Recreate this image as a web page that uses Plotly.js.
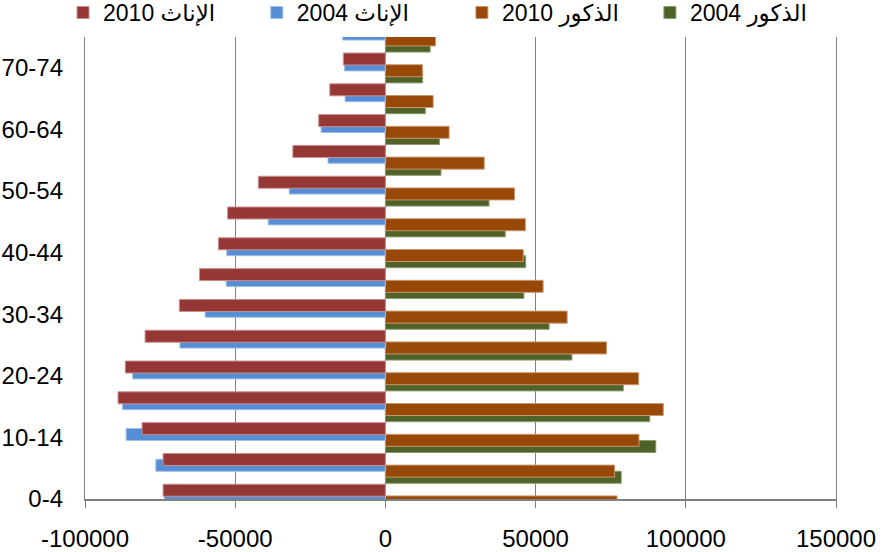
<!DOCTYPE html>
<html>
<head>
<meta charset="utf-8">
<script src="https://cdn.plot.ly/plotly-3.0.1.min.js"></script>
<style>
html,body{margin:0;padding:0;background:#fff;}
#chart{width:884px;height:552px;}
</style>
</head>
<body>
<div id="chart"></div>
<script>
// Age groups, bottom to top
const ageGroups = ['0-4','5-9','10-14','15-19','20-24','25-29','30-34','35-39',
                   '40-44','45-49','50-54','55-59','60-64','65-69','70-74','75-79'];
const ageTickLabels = ['0-4','10-14','20-24','30-34','40-44','50-54','60-64','70-74'];

// Series (females negative, males positive)
const female2010 = [-74000,-74000,-81000,-89000,-86600,-80000,-68600,-61900,
                    -55600,-52500,-42300,-30800,-22200,-18500,-14000,-13500];
const female2004 = [-73600,-76400,-86300,-87500,-84100,-68400,-60000,-53000,
                    -52800,-39000,-32000,-19100,-21400,-13400,-13600,-14200];
const male2010   = [77100,76300,84400,92500,84300,73600,60500,52500,
                    45900,46600,43000,32900,21200,15900,12300,16700];
const male2004   = [78000,78500,90000,88000,79200,62100,54500,46100,
                    46700,39900,34500,18500,18000,13300,12400,14900];

const seriesNames = ['الذكور 2004','الذكور 2010','الإناث 2004','الإناث 2010'];
const xTickValues = [-100000,-50000,0,50000,100000,150000];
const xTickLabels = ['-100000','-50000','0','50000','100000','150000'];

const barWidth = 0.39;
function bar(name, values, color, edge, offset, legendId) {
  return {
    type: 'bar', orientation: 'h', name: name,
    x: values, y: ageGroups,
    offset: offset, width: barWidth,
    legend: legendId,
    marker: {color: color, line: {color: edge, width: 1}},
    hoverinfo: 'x+y'
  };
}

const traces = [
  bar(seriesNames[0], male2004,   '#4F6228', '#8a9a70', -0.49, 'legend4'),
  bar(seriesNames[1], male2010,   '#984807', '#c89870', -0.29, 'legend3'),
  bar(seriesNames[2], female2004, '#558ED5', '#9dbde6', -0.10, 'legend2'),
  bar(seriesNames[3], female2010, '#953735', '#c89090',  0.09, 'legend')
];

function legendAt(xFrac) {
  return {
    orientation: 'h', xref: 'container', yref: 'paper',
    x: xFrac, y: 1.0995, xanchor: 'left', yanchor: 'top',
    font: {size: 23, color: '#000000'},
    bgcolor: 'rgba(0,0,0,0)'
  };
}

const gridGray = '#808080';
const layout = {
  width: 884, height: 552,
  margin: {l: 85, r: 48, t: 37, b: 53, pad: 0, autoexpand: false},
  barmode: 'overlay',
  paper_bgcolor: '#ffffff', plot_bgcolor: '#ffffff',
  font: {family: '"Liberation Sans", Arial, "DejaVu Sans", sans-serif', size: 24, color: '#000000'},
  showlegend: true,
  legend:  legendAt(0.0713),
  legend2: legendAt(0.2905),
  legend3: legendAt(0.5225),
  legend4: legendAt(0.7352),
  xaxis: {
    range: [-100000, 150000],
    tickmode: 'array', tickvals: xTickValues, ticktext: xTickLabels,
    showgrid: true, gridcolor: gridGray, gridwidth: 1.2,
    zeroline: false,
    showline: true, linecolor: gridGray, linewidth: 2,
    ticks: 'outside', ticklen: 7, tickcolor: gridGray, tickwidth: 1,
    ticklabelstandoff: 10,
    fixedrange: true
  },
  yaxis: {
    type: 'category', categoryorder: 'array', categoryarray: ageGroups,
    range: [0, 15],
    tickmode: 'array', tickvals: ageTickLabels,
    showgrid: false, zeroline: false,
    showline: true, mirror: true, linecolor: gridGray, linewidth: 1.2,
    ticks: '', ticklabelstandoff: 16,
    fixedrange: true
  },
  yaxis2: {
    overlaying: 'y', anchor: 'free', position: 0.4, side: 'left',
    type: 'category', categoryorder: 'array', categoryarray: ageGroups,
    range: [0, 15],
    tickmode: 'linear', tick0: 0, dtick: 1,
    ticks: 'outside', ticklen: 7, tickcolor: gridGray, tickwidth: 1,
    showticklabels: false, showgrid: false, zeroline: false,
    showline: true, linecolor: gridGray, linewidth: 2,
    fixedrange: true
  }
};

Plotly.newPlot('chart', traces, layout, {displayModeBar: false, staticPlot: true});
</script>
</body>
</html>
